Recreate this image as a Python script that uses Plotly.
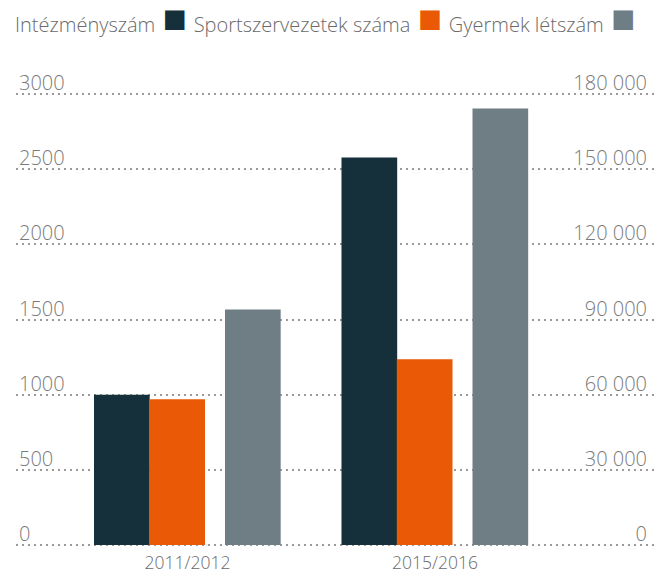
import plotly.graph_objects as go

categories = ["2011/2012", "2015/2016"]
series_names = ["Intézményszám", "Sportszervezetek száma", "Gyermek létszám"]
intezmenyszam = [1000, 2578]
sportszervezetek = [970, 1236]
gyermek_letszam = [94000, 174200]
colors = ["#15303b", "#ea5905", "#6f7e85"]

left_ticks = [0, 500, 1000, 1500, 2000, 2500, 3000]
right_ticks = [0, 30000, 60000, 90000, 120000, 150000, 180000]

FONT = "Open Sans"
idx = list(range(len(categories)))

W, H = 654, 572
ml, mr, mt, mb = 16, 0, 90.5, 24
pw = W - ml - mr
ph = H - mt - mb
pad = 20  # keep the 0 and 3000 grid lines off the plot edges

unit = 247.5          # px per category
first_center = 171.5  # px from plot left to first category centre

fig = go.Figure()
bw = 0.225
offsets = [-0.3778, -0.1543, 0.1515]
values = [intezmenyszam, sportszervezetek, gyermek_letszam]
for name, vals, col, off, ax in zip(series_names, values, colors, offsets, ["y", "y", "y2"]):
    fig.add_trace(go.Bar(
        x=idx, y=vals, name=name, marker=dict(color=col, line=dict(width=0)),
        width=bw, offset=off, yaxis=ax, showlegend=False,
        hovertemplate=name + ": %{y}<extra></extra>",
    ))

gap_before = "<span style='font-size:28px'>&nbsp;</span>"
gap_after = "<span style='font-size:27px'>&nbsp;</span>"
legend_text = "".join(
    f"{n}{gap_before}<span style='color:{c};font-size:40px'>■</span>"
    + (gap_after if i < len(series_names) - 1 else "")
    for i, (n, c) in enumerate(zip(series_names, colors))
)

fig.update_layout(
    width=W, height=H,
    margin=dict(l=ml, r=mr, t=mt, b=mb, autoexpand=False),
    paper_bgcolor="white", plot_bgcolor="white",
    barmode="overlay",
    separators=", ",
    font=dict(family=FONT, color="#6a6a6a"),
    xaxis=dict(range=[-first_center / unit, -first_center / unit + pw / unit], automargin=False,
               tickmode="array", tickvals=idx, ticktext=categories, ticklabelstandoff=2,
               tickfont=dict(family=FONT, size=17.5, color="#6a6a6a", weight=300),
               showgrid=False, zeroline=False, showline=False, ticks=""),
    yaxis=dict(range=[-pad, 3000 + pad], tickmode="array", tickvals=left_ticks, tickformat="d",
               automargin=False, ticklabelshift=3,
               ticklabelposition="inside top", ticklabeloverflow="allow",
               tickfont=dict(family=FONT, size=20, color="#7a7a7a", weight=300),
               showgrid=True, gridcolor="#9a9a9a", gridwidth=2, griddash="2px,4px",
               zeroline=False, showline=False, ticks=""),
    yaxis2=dict(range=[-pad * 60, (3000 + pad) * 60], overlaying="y", side="right", tickmode="array",
                tickvals=right_ticks, tickformat=",d", automargin=False,
                ticklabelshift=3, ticklabelstandoff=4,
                ticklabelposition="inside top", ticklabeloverflow="allow",
                tickfont=dict(family=FONT, size=20, color="#7a7a7a", weight=300),
                showgrid=False, zeroline=False, showline=False, ticks=""),
    annotations=[dict(
        text=legend_text, xref="paper", yref="paper",
        x=-3 / pw, y=1 + (mt - 16) / ph, xanchor="left", yanchor="middle",
        showarrow=False, font=dict(family=FONT, size=20, color="#6a6a6a", weight=300),
    )],
)

fig.write_html(
    "out.html",
    config={"displayModeBar": False},
    post_script="document.body.style.margin='0px';document.body.style.overflow='hidden';",
)
